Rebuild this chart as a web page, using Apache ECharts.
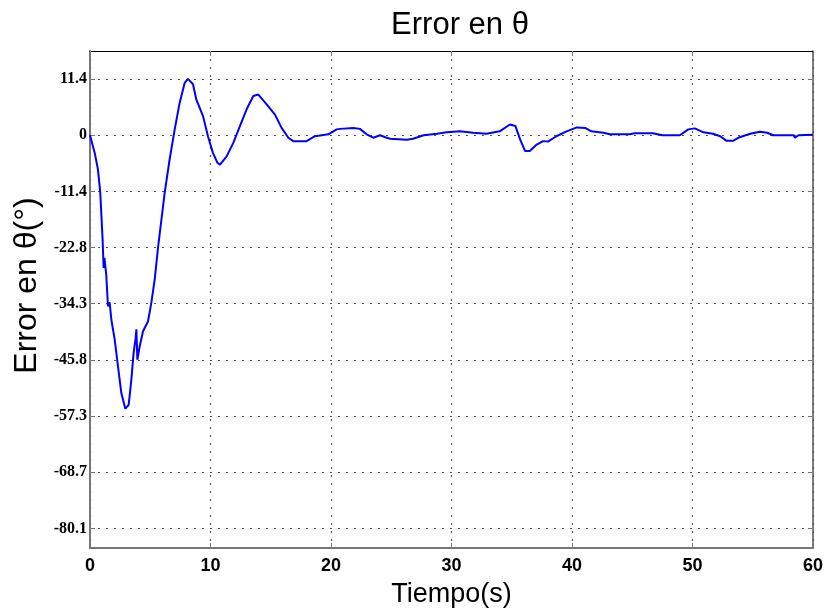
<!DOCTYPE html>
<html>
<head>
<meta charset="utf-8">
<script src="https://cdn.jsdelivr.net/npm/echarts@6/dist/echarts.min.js"></script>
<style>html,body{margin:0;padding:0;background:#fff}#c{width:828px;height:612px}</style>
</head>
<body>
<div id="c"></div>
<script>
const timeS = [0,0.39,0.66,0.85,1.05,1.13,1.2,1.35,1.49,1.63,1.77,2.05,2.32,2.6,2.93,3.21,3.43,3.62,3.78,3.85,3.93,4.12,4.4,4.81,5.09,5.37,5.66,6.2,6.61,7.03,7.44,7.86,8.13,8.55,8.82,9.38,9.79,10.2,10.57,10.79,11.34,11.9,12.45,13.0,13.55,13.97,14.66,15.35,15.9,16.46,16.87,17.98,18.67,19.78,20.47,20.75,21.85,22.4,22.96,23.5,24.07,24.5,24.9,26.3,26.4,26.8,27.7,28.8,29.6,30.7,31.8,32.9,34.0,34.85,35.3,35.7,36.1,36.5,37.07,37.6,38.0,38.7,39.55,40.4,41.1,41.6,42.6,43.15,44.8,45.2,46.7,47.5,48.95,49.65,50.2,50.9,51.7,52.3,52.8,53.4,53.9,54.8,55.6,56.2,56.7,58.4,58.5,58.8,60];
const errorDeg = [0,-3.6,-7.0,-11.6,-21.5,-27.1,-25.0,-28.5,-34.9,-34.1,-37.6,-41.7,-47.1,-52.6,-55.8,-55.0,-49.9,-44.4,-41.5,-39.6,-45.8,-43.1,-40.0,-38.0,-34.2,-29.4,-22.6,-11.7,-4.9,1.2,6.6,10.7,11.5,10.4,7.3,3.9,-0.2,-3.6,-5.6,-6.0,-4.3,-1.5,1.9,5.3,8.0,8.3,6.3,4.2,1.5,-0.5,-1.2,-1.2,-0.2,0.2,1.2,1.3,1.5,1.3,0.2,-0.5,0,-0.4,-0.7,-0.9,-1.2,-0.7,0,0.3,0.6,0.8,0.5,0.3,0.8,2.2,1.9,-0.9,-3.2,-3.2,-1.9,-1.2,-1.3,-0.2,0.8,1.6,1.5,0.8,0.5,0.2,0.2,0.4,0.4,0,0,1.2,1.4,0.6,0.3,-0.2,-1.1,-1.1,-0.4,0.3,0.7,0.5,0,0,-0.5,0,0.1];
const yTickValues = [-80.214,-68.755,-57.296,-45.837,-34.377,-22.918,-11.459,0,11.459];
const yTickLabels = ['-80.1','-68.7','-57.3','-45.8','-34.3','-22.8','-11.4','0','11.4'];
const xTicks = [0,10,20,30,40,50,60];

const data = timeS.map((t,i)=>[t,errorDeg[i]]);
const labelMap = {};
yTickValues.forEach((v,i)=>{labelMap[v.toFixed(3)] = yTickLabels[i];});

const chart = echarts.init(document.getElementById('c'), null, {renderer:'canvas'});
const gridLine = {show:true, lineStyle:{color:'#555', type:[2,6], width:1.2}};
chart.setOption({
  animation:false,
  backgroundColor:'#fff',
  title:{text:'Error en θ', left:455, top:5, textAlign:'center',
    textStyle:{fontFamily:'Liberation Sans, Arial', fontSize:31, fontWeight:'normal', color:'#000'}},
  grid:{left:90, right:15, top:51, bottom:64, containLabel:false, outerBoundsMode:'none'},
  xAxis:[{
    type:'value', min:0, max:60, interval:10,
    name:'Tiempo(s)', nameLocation:'middle', nameGap:33,
    nameTextStyle:{fontFamily:'Liberation Sans, Arial', fontSize:27, color:'#000'},
    axisLine:{show:true, onZero:false, lineStyle:{color:'#777', width:2}},
    axisTick:{show:true, inside:true, length:5, lineStyle:{color:'#777'}},
    axisLabel:{fontFamily:'Liberation Sans, Arial', fontSize:18, fontWeight:'bold', color:'#000', margin:9,
      formatter:v=>xTicks.includes(v)?String(v):''},
    splitLine:gridLine
  },{
    type:'value', position:'top', min:0, max:60, interval:10,
    axisLine:{show:true, onZero:false, lineStyle:{color:'#000', width:1}},
    axisTick:{show:true, inside:true, length:5, lineStyle:{color:'#777'}},
    axisLabel:{show:false}, splitLine:{show:false}
  }],
  yAxis:[{
    type:'value', min:-84.22, max:17.19,
    name:'Error en θ(°)', nameLocation:'middle', nameGap:46,
    nameTextStyle:{fontFamily:'Liberation Sans, Arial', fontSize:32, color:'#000', padding:[0,0,0,28]},
    axisLine:{show:true, onZero:false, lineStyle:{color:'#777', width:2}},
    axisTick:{show:true, inside:true, length:5, customValues:yTickValues, lineStyle:{color:'#777'}},
    axisLabel:{customValues:yTickValues, fontFamily:'Liberation Serif, Times New Roman', fontSize:16, fontWeight:'bold', color:'#000', margin:3,
      formatter:v=>labelMap[Number(v).toFixed(3)] ?? ''},
    splitLine:gridLine
  },{
    type:'value', position:'right', min:-84.22, max:17.19,
    axisLine:{show:true, onZero:false, lineStyle:{color:'#555', width:1.5}},
    axisTick:{show:true, inside:true, length:5, customValues:yTickValues, lineStyle:{color:'#777'}},
    axisLabel:{show:false}, splitLine:{show:false}
  }],
  series:[{
    type:'line', data:data, xAxisIndex:0, yAxisIndex:0,
    showSymbol:false, smooth:false,
    lineStyle:{color:'#0000ff', width:2}
  }]
});
</script>
</body>
</html>
